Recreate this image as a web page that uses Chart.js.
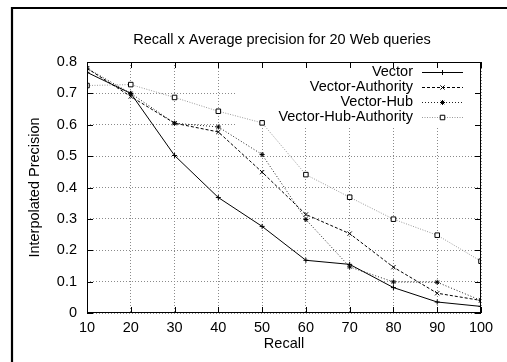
<!DOCTYPE html>
<html><head><meta charset="utf-8">
<script src="https://cdn.jsdelivr.net/npm/chart.js@4/dist/chart.umd.min.js"></script>
<style>html,body{margin:0;padding:0;background:#fff;overflow:hidden}</style>
</head><body>
<canvas id="c" width="507" height="362"></canvas>
<script>
const titleText = 'Recall x Average precision for 20 Web queries';
const xTitle = 'Recall';
const yTitle = 'Interpolated Precision';
const recall = [10, 20, 30, 40, 50, 60, 70, 80, 90, 100];
const seriesNames = ['Vector', 'Vector-Authority', 'Vector-Hub', 'Vector-Hub-Authority'];
const vector = [0.767, 0.700, 0.502, 0.368, 0.276, 0.168, 0.155, 0.081, 0.035, 0.021];
const vectorAuthority = [0.780, 0.690, 0.605, 0.577, 0.449, 0.314, 0.253, 0.146, 0.063, 0.040];
const vectorHub = [0.780, 0.700, 0.605, 0.593, 0.505, 0.298, 0.147, 0.099, 0.098, 0.040];
const vectorHubAuthority = [0.725, 0.728, 0.687, 0.643, 0.606, 0.441, 0.369, 0.299, 0.248, 0.165];

const FONT = 'Liberation Sans, Arial, Helvetica, sans-serif';
const FS = 14.5;
function pts(vals){ return recall.map((x,i)=>({x:x, y:vals[i]})); }

const styles = [
  {borderColor:'#000', borderDash:[], pointStyle:'cross', pointRadius:2.5, pointBorderColor:'#000', pointBackgroundColor:'#000', borderWidth:1},
  {borderColor:'#000', borderDash:[3,2], pointStyle:'crossRot', pointRadius:3, pointBorderColor:'#000', pointBackgroundColor:'#000', borderWidth:1},
  {borderColor:'#222', borderDash:[1,2], pointStyle:'star', pointRadius:2.5, pointBorderColor:'#000', pointBackgroundColor:'#000', borderWidth:1},
  {borderColor:'#999', borderDash:[1,1.5], pointStyle:'rect', pointRadius:3.2, pointBorderColor:'#000', pointBackgroundColor:'#fff', borderWidth:1}
];
const values = [vector, vectorAuthority, vectorHub, vectorHubAuthority];
const datasets = values.map((v,i)=>Object.assign({
  label: seriesNames[i], data: pts(v), tension:0, fill:false,
  pointBorderWidth:1, pointHoverRadius:3
}, styles[i]));

function drawMarker(ctx, style, x, y, r, fill){
  ctx.save();
  ctx.strokeStyle = '#000'; ctx.lineWidth = 1; ctx.setLineDash([]);
  ctx.beginPath();
  const d = r*Math.SQRT1_2;
  if (style==='cross' || style==='star'){ ctx.moveTo(x-r,y); ctx.lineTo(x+r,y); ctx.moveTo(x,y-r); ctx.lineTo(x,y+r); }
  if (style==='crossRot' || style==='star'){ ctx.moveTo(x-d,y-d); ctx.lineTo(x+d,y+d); ctx.moveTo(x-d,y+d); ctx.lineTo(x+d,y-d); }
  if (style==='rect'){ ctx.fillStyle = fill; ctx.rect(x-d,y-d,2*d,2*d); ctx.fill(); }
  ctx.stroke();
  ctx.restore();
}

const decor = {
  id:'decor',
  beforeDatasetsDraw(chart){
    const {ctx, chartArea:a} = chart;
    ctx.save(); ctx.fillStyle='#fff';
    ctx.fillRect(235, a.top+1, a.right-236, 64);
    ctx.restore();
  },
  afterDatasetsDraw(chart){
    const {ctx, chartArea:a, scales} = chart;
    ctx.save();
    ctx.strokeStyle='#000'; ctx.lineWidth=1; ctx.setLineDash([]);
    ctx.strokeRect(Math.round(a.left)+0.5, Math.round(a.top)+0.5, Math.round(a.right-a.left)-1, Math.round(a.bottom-a.top)-1);
    ctx.beginPath();
    scales.x.ticks.forEach(t=>{
      const px = Math.round(scales.x.getPixelForValue(t.value))+0.5;
      ctx.moveTo(px, a.bottom); ctx.lineTo(px, a.bottom-6);
      ctx.moveTo(px, a.top); ctx.lineTo(px, a.top+6);
    });
    scales.y.ticks.forEach(t=>{
      const py = Math.round(scales.y.getPixelForValue(t.value))+0.5;
      ctx.moveTo(a.left, py); ctx.lineTo(a.left+6, py);
      ctx.moveTo(a.right, py); ctx.lineTo(a.right-6, py);
    });
    ctx.stroke();
    const rows = [71.5, 86.5, 101.5, 116.5];
    ctx.font = FS + 'px ' + FONT; ctx.fillStyle='#000';
    ctx.textAlign='right'; ctx.textBaseline='middle';
    chart.data.datasets.forEach((ds,i)=>{
      const y = rows[i];
      ctx.fillStyle='#000';
      ctx.fillText(ds.label, 413, y+0.5);
      ctx.save();
      ctx.strokeStyle = ds.borderColor; ctx.lineWidth = 1; ctx.setLineDash(ds.borderDash);
      ctx.beginPath(); ctx.moveTo(422, Math.round(y)+0.5); ctx.lineTo(463, Math.round(y)+0.5); ctx.stroke();
      ctx.restore();
      drawMarker(ctx, ds.pointStyle, 442.5, Math.round(y)+0.5, ds.pointRadius, ds.pointBackgroundColor);
    });
    ctx.restore();
  },
  afterDraw(chart){
    const {ctx, chartArea:a} = chart;
    ctx.save();
    ctx.fillStyle='#000'; ctx.font=FS + 'px ' + FONT;
    ctx.textAlign='center'; ctx.textBaseline='middle';
    ctx.fillText(titleText, (a.left+a.right)/2 - 2, 40);
    ctx.strokeStyle='#000'; ctx.lineWidth=2.2; ctx.setLineDash([]);
    ctx.beginPath(); ctx.moveTo(12, 370); ctx.lineTo(12, 8); ctx.lineTo(520, 8); ctx.stroke();
    ctx.restore();
  }
};

new Chart(document.getElementById('c'), {
  type:'line',
  data:{ datasets: datasets },
  options:{
    responsive:false, animation:false, devicePixelRatio:1,
    layout:{ padding:{ left:14, right:26, top:62, bottom:0 } },
    plugins:{ legend:{display:false}, title:{display:false}, tooltip:{enabled:false} },
    scales:{
      x:{ type:'linear', min:10, max:100,
        ticks:{ stepSize:10, color:'#000', font:{family:FONT, size:FS}, padding:6, maxRotation:0 },
        grid:{ color:'#8a8a8a', lineWidth:1, drawTicks:false },
        border:{ display:false, dash:[1,2] },
        title:{ display:true, text:xTitle, color:'#000', font:{family:FONT, size:FS}, padding:{top:0, bottom:9} },
        afterFit(s){ s.height = 49; }
      },
      y:{ type:'linear', min:0, max:0.8,
        ticks:{ stepSize:0.1, color:'#000', font:{family:FONT, size:FS}, padding:10,
          callback:(v)=> (Math.round(v*10)/10).toString() },
        grid:{ color:'#8a8a8a', lineWidth:1, drawTicks:false },
        border:{ display:false, dash:[1,2] },
        title:{ display:true, text:yTitle, color:'#000', font:{family:FONT, size:FS}, padding:{top:12, bottom:0} },
        afterFit(s){ s.width = 73; }
      }
    }
  },
  plugins:[decor]
});
</script>
</body></html>
